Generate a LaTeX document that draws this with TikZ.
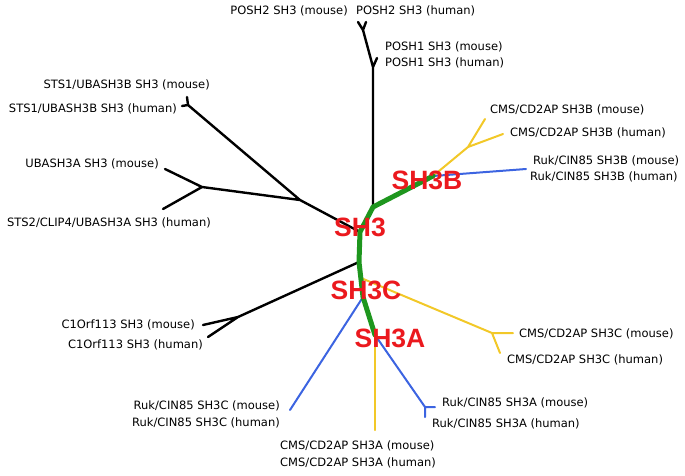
\documentclass[tikz,border=0pt]{standalone}
\usepackage{fontspec}
\setmainfont{DejaVu Sans}
\newfontfamily\grpfont{Liberation Sans}
\usepackage{xcolor}
\usepackage{tikz}
\definecolor{sgreen}{RGB}{30,150,30}
\definecolor{syellow}{RGB}{242,200,40}
\definecolor{sblue}{RGB}{60,100,225}
\definecolor{sred}{RGB}{235,25,30}

\begin{document}
\begin{tikzpicture}[x=1pt,y=-1pt,line cap=round,line join=round,
    leaf/.style={inner sep=0pt, font=\fontsize{11.5}{13}\selectfont},
    grp/.style={inner sep=0pt, text=sred, font=\grpfont\bfseries\fontsize{26.5}{30}\selectfont},
    blk/.style={line width=2.4pt, black},
    ylw/.style={line width=2pt, syellow},
    blu/.style={line width=2pt, sblue},
    bone/.style={line width=5pt, sgreen}]
          \useasboundingbox (0,0) rectangle (685,475);

          % backbone
          \coordinate (B)  at (433,176);
          \coordinate (J1) at (373,207);
          \coordinate (J2) at (360,232);
          \coordinate (J3) at (359,262);
          \coordinate (C1) at (361,278);
          \coordinate (C2) at (363,297);
          \coordinate (A)  at (375,335);

          % black branches
          \coordinate (P1)  at (373,67);
          \coordinate (P1m) at (377,58);
          \coordinate (P2)  at (363,30);
          \coordinate (P2m) at (358,22);
          \coordinate (P2h) at (366,22);
          \coordinate (S)   at (300,200);
          \coordinate (S1)  at (188,105);
          \coordinate (S1m) at (187,97);
          \coordinate (S1h) at (182,106);
          \coordinate (U)   at (202,187);
          \coordinate (Um)  at (165,169);
          \coordinate (Uh)  at (163,209);
          \coordinate (K)   at (238,317);
          \coordinate (Km)  at (203,325);
          \coordinate (Kh)  at (208,337);

          % coloured branches
          \coordinate (YB)  at (468,147);
          \coordinate (YBm) at (485,119);
          \coordinate (YBh) at (503,134);
          \coordinate (RB)  at (526,169);
          \coordinate (YC)  at (492,333);
          \coordinate (YCm) at (513,333);
          \coordinate (YCh) at (500,353);
          \coordinate (RC)  at (290,410);
          \coordinate (YA)  at (375,430);
          \coordinate (RA)  at (425,407);
          \coordinate (RAm) at (435,407);
          \coordinate (RAh) at (425,417);

          \draw[blk] (J1) -- (P1) -- (P2) -- (P2m) (P2) -- (P2h) (P1) -- (P1m);
          \draw[blk] (J2) -- (S) -- (S1) -- (S1m) (S1) -- (S1h) (S) -- (U) -- (Um) (U) -- (Uh);
          \draw[blk] (J3) -- (K) -- (Km) (K) -- (Kh);

          \draw[ylw] (B) -- (YB) -- (YBm) (YB) -- (YBh);
          \draw[blu] (B) -- (RB);
          \draw[ylw] (C1) -- (YC) -- (YCm) (YC) -- (YCh);
          \draw[blu] (C2) -- (RC);
          \draw[ylw] (A) -- (YA);
          \draw[blu] (A) -- (RA) -- (RAm) (RA) -- (RAh);

          \draw[bone] (B) -- (J1) -- (J2) -- (J3) -- (C2) -- (A);

          % leaves
          \node[leaf, anchor=east](L1)  at (348,11)  {POSH2 SH3 (mouse)};
          \node[leaf, anchor=west](L2)  at (356,11)  {POSH2 SH3 (human)};
          \node[leaf, anchor=west](L3)  at (385,47)  {POSH1 SH3 (mouse)};
          \node[leaf, anchor=west](L4)  at (385,63)  {POSH1 SH3 (human)};
          \node[leaf, anchor=east](L5)  at (210,85)  {STS1/UBASH3B SH3 (mouse)};
          \node[leaf, anchor=east](L6)  at (177,109) {STS1/UBASH3B SH3 (human)};
          \node[leaf, anchor=east](L7)  at (159,164) {UBASH3A SH3 (mouse)};
          \node[leaf, anchor=east](L8)  at (211,223) {STS2/CLIP4/UBASH3A SH3 (human)};
          \node[leaf, anchor=west](L9)  at (490,110) {CMS/CD2AP SH3B (mouse)};
          \node[leaf, anchor=west](L10) at (510,133) {CMS/CD2AP SH3B (human)};
          \node[leaf, anchor=west](L11) at (533,161) {Ruk/CIN85 SH3B (mouse)};
          \node[leaf, anchor=west](L12) at (530,177) {Ruk/CIN85 SH3B (human)};
          \node[leaf, anchor=east](L13) at (195,325) {C1Orf113 SH3 (mouse)};
          \node[leaf, anchor=east](L14) at (203,345) {C1Orf113 SH3 (human)};
          \node[leaf, anchor=west](L15) at (519,334) {CMS/CD2AP SH3C (mouse)};
          \node[leaf, anchor=west](L16) at (507,360) {CMS/CD2AP SH3C (human)};
          \node[leaf, anchor=east](L17) at (280,406) {Ruk/CIN85 SH3C (mouse)};
          \node[leaf, anchor=east](L18) at (280,423) {Ruk/CIN85 SH3C (human)};
          \node[leaf, anchor=west](L19) at (442,403) {Ruk/CIN85 SH3A (mouse)};
          \node[leaf, anchor=west](L20) at (432,424) {Ruk/CIN85 SH3A (human)};
          \node[leaf, anchor=west](L21) at (280,446) {CMS/CD2AP SH3A (mouse)};
          \node[leaf, anchor=west](L22) at (280,463) {CMS/CD2AP SH3A (human)};

          % group labels
          \node[grp](G0) at (360,227) {SH3};
          \node[grp](GB) at (427,180) {SH3B};
          \node[grp](GC) at (366,290) {SH3C};
          \node[grp](GA) at (390,338) {SH3A};
        \end{tikzpicture}
\end{document}
